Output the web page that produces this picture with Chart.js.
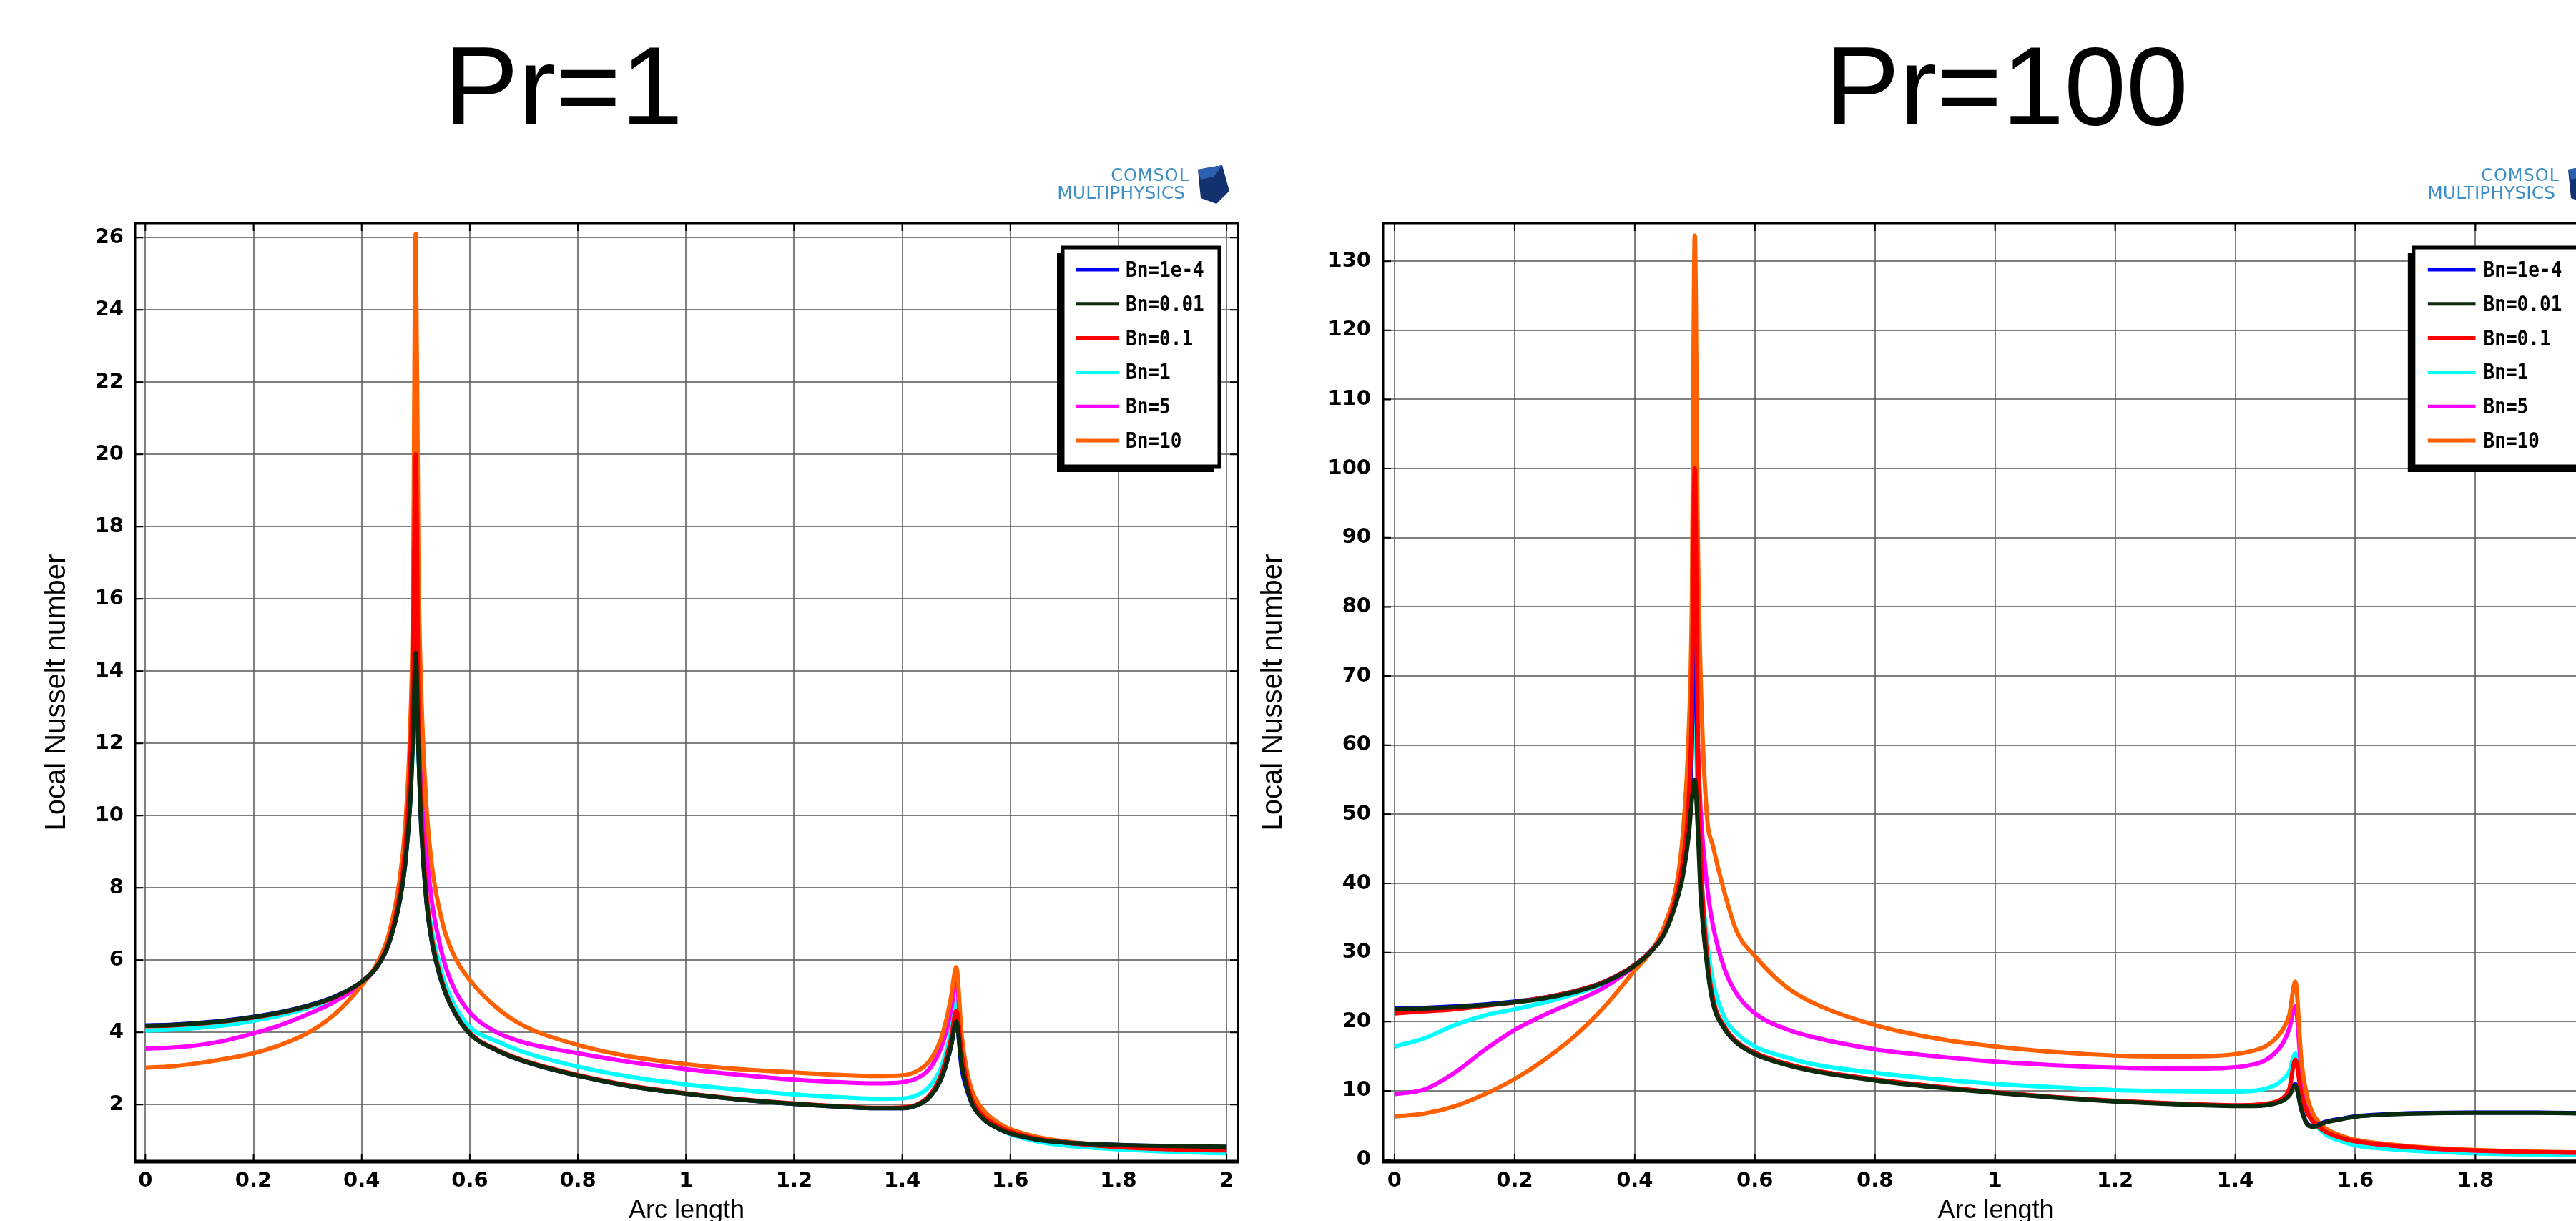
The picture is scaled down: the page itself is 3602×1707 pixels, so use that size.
<!DOCTYPE html>
<html>
<head>
<meta charset="utf-8">
<script src="https://cdn.jsdelivr.net/npm/chart.js@4.4.1/dist/chart.umd.min.js"></script>
<style>
  html, body { margin: 0; padding: 0; background: #fff; overflow: hidden; }
  body { width: 3602px; height: 1707px; position: relative; }
  canvas { position: absolute; top: 0; }
  #pr1 { left: 0; }
  #pr100 { left: 1740px; }
</style>
</head>
<body>
<canvas id="pr1" width="1800" height="1720"></canvas>
<canvas id="pr100" width="1960" height="1720"></canvas>
<script>
// arc length samples (denser around the two corners at 0.5 and 1.5)
const arcLength = [0, 0.05, 0.1, 0.15, 0.2, 0.25, 0.3, 0.35, 0.4, 0.43, 0.45, 0.47, 0.48, 0.49, 0.495, 0.5,
  0.505, 0.51, 0.52, 0.53, 0.55, 0.57, 0.6, 0.65, 0.7, 0.8, 0.9, 1.0, 1.1, 1.2, 1.3, 1.35, 1.4, 1.43, 1.45,
  1.47, 1.48, 1.49, 1.5, 1.51, 1.52, 1.53, 1.55, 1.58, 1.6, 1.65, 1.7, 1.8, 1.9, 2.0];

const bnLabels = ['Bn=1e-4', 'Bn=0.01', 'Bn=0.1', 'Bn=1', 'Bn=5', 'Bn=10'];
const seriesColors = ['#0000ff', '#0c2a0c', '#ff0000', '#00ffff', '#ff00ff', '#ff6000'];
const drawOrder = [2, 0, 1, 5, 4, 3];

// Pr = 1
const pr1Bn1e4 = [4.19, 4.21, 4.26, 4.33, 4.43, 4.56, 4.74, 4.99, 5.4, 5.85, 6.45, 7.6, 8.6, 10.5, 12.5, 15.5,
  12.0, 9.8, 7.6, 6.5, 5.3, 4.6, 3.97, 3.5, 3.2, 2.8, 2.5, 2.3, 2.14, 2.02, 1.93, 1.9, 1.9, 2.0, 2.2,
  2.65, 3.05, 3.6, 4.3, 3.0, 2.4, 2.0, 1.6, 1.32, 1.2, 1.03, 0.95, 0.88, 0.84, 0.82];
const pr1Bn001 = [4.18, 4.2, 4.25, 4.32, 4.42, 4.55, 4.73, 4.98, 5.4, 5.85, 6.45, 7.6, 8.6, 10.4, 12.2, 14.5,
  11.8, 9.7, 7.6, 6.5, 5.3, 4.6, 3.96, 3.5, 3.2, 2.8, 2.5, 2.3, 2.14, 2.02, 1.93, 1.9, 1.9, 2.0, 2.2,
  2.65, 3.05, 3.6, 4.3, 3.1, 2.45, 2.0, 1.6, 1.32, 1.2, 1.03, 0.95, 0.88, 0.85, 0.83];
const pr1Bn01 = [4.17, 4.19, 4.24, 4.31, 4.41, 4.54, 4.72, 4.97, 5.4, 5.86, 6.5, 7.8, 9.0, 11.5, 14.5, 20.0,
  13.0, 10.2, 7.8, 6.6, 5.35, 4.62, 3.98, 3.52, 3.22, 2.82, 2.52, 2.31, 2.15, 2.03, 1.94, 1.91, 1.92, 2.02, 2.25,
  2.75, 3.2, 3.8, 4.6, 3.4, 2.6, 2.1, 1.68, 1.38, 1.25, 1.05, 0.95, 0.82, 0.76, 0.73];
const pr1Bn1 = [4.05, 4.08, 4.13, 4.2, 4.32, 4.47, 4.67, 4.94, 5.38, 5.85, 6.45, 7.6, 8.6, 10.4, 12.0, 13.5,
  11.8, 9.9, 7.8, 6.8, 5.55, 4.8, 4.15, 3.75, 3.45, 3.05, 2.76, 2.56, 2.41, 2.28, 2.19, 2.16, 2.17, 2.28, 2.5,
  2.95, 3.4, 4.0, 4.85, 3.4, 2.55, 2.1, 1.66, 1.32, 1.18, 0.98, 0.87, 0.76, 0.69, 0.65];
const pr1Bn5 = [3.55, 3.58, 3.65, 3.78, 3.97, 4.2, 4.5, 4.85, 5.35, 5.85, 6.45, 7.7, 8.8, 10.8, 13.0, 18.0,
  14.0, 11.5, 9.0, 7.6, 6.1, 5.25, 4.55, 4.0, 3.72, 3.42, 3.17, 2.98, 2.82, 2.69, 2.61, 2.59, 2.62, 2.75, 2.98,
  3.5, 3.95, 4.6, 5.4, 3.7, 2.75, 2.25, 1.78, 1.42, 1.28, 1.07, 0.95, 0.84, 0.79, 0.77];
const pr1Bn10 = [3.02, 3.06, 3.15, 3.27, 3.42, 3.65, 3.98, 4.5, 5.3, 5.95, 6.7, 8.2, 9.6, 12.5, 16.0, 26.1,
  17.0, 13.5, 10.2, 8.6, 7.0, 6.15, 5.45, 4.68, 4.18, 3.65, 3.32, 3.12, 2.98, 2.89, 2.81, 2.79, 2.81, 2.95, 3.2,
  3.75, 4.25, 4.95, 5.8, 3.9, 2.9, 2.35, 1.85, 1.47, 1.32, 1.1, 0.98, 0.86, 0.81, 0.79];

// Pr = 100
const pr100Bn1e4 = [21.9, 22.0, 22.2, 22.5, 22.9, 23.5, 24.4, 25.8, 28.2, 30.5, 33.0, 38.0, 42.0, 50.0, 60.0, 82.0,
  55.0, 40.0, 29.0, 23.0, 19.0, 17.0, 15.4, 13.9, 12.9, 11.6, 10.6, 9.75, 9.05, 8.5, 8.1, 7.95, 7.85, 7.85, 7.95,
  8.3, 8.7, 9.4, 11.0, 7.4, 5.2, 4.9, 5.5, 6.0, 6.3, 6.6, 6.75, 6.85, 6.85, 6.75];
const pr100Bn001 = [21.8, 21.9, 22.1, 22.4, 22.8, 23.4, 24.3, 25.7, 28.1, 30.4, 32.8, 37.5, 41.0, 47.0, 52.0, 55.0,
  48.0, 38.0, 28.5, 22.8, 18.9, 16.9, 15.3, 13.8, 12.8, 11.5, 10.5, 9.7, 9.0, 8.45, 8.05, 7.9, 7.8, 7.8, 7.9,
  8.25, 8.6, 9.3, 10.8, 7.3, 5.1, 4.8, 5.4, 5.95, 6.25, 6.55, 6.7, 6.8, 6.8, 6.7];
const pr100Bn01 = [21.2, 21.5, 21.8, 22.3, 22.8, 23.5, 24.4, 25.8, 28.2, 30.5, 33.0, 38.5, 43.0, 52.0, 65.0, 100.0,
  62.0, 44.0, 30.0, 23.5, 19.2, 17.1, 15.5, 14.0, 12.95, 11.65, 10.65, 9.8, 9.1, 8.55, 8.15, 8.0, 7.9, 7.95, 8.1,
  8.5, 9.0, 10.3, 14.5, 9.5, 6.8, 5.5, 4.1, 3.1, 2.7, 2.15, 1.8, 1.35, 1.12, 1.0];
const pr100Bn1 = [16.4, 17.6, 19.5, 20.9, 21.8, 22.8, 24.0, 25.6, 28.0, 30.4, 33.0, 38.0, 42.0, 50.0, 58.0, 65.0,
  52.0, 42.0, 32.0, 26.0, 20.5, 18.3, 16.4, 14.9, 13.8, 12.6, 11.7, 11.0, 10.5, 10.1, 9.95, 9.9, 9.9, 10.0, 10.3,
  11.0, 11.7, 12.8, 15.4, 10.0, 7.0, 5.5, 3.7, 2.6, 2.1, 1.6, 1.3, 0.95, 0.8, 0.72];
const pr100Bn5 = [9.5, 10.2, 12.6, 15.9, 18.8, 21.0, 22.9, 25.0, 28.1, 30.6, 33.3, 39.0, 44.0, 53.0, 62.0, 72.0,
  60.0, 50.0, 40.0, 34.0, 27.5, 24.0, 21.2, 19.0, 17.7, 16.0, 15.0, 14.2, 13.7, 13.35, 13.2, 13.2, 13.4, 13.8, 14.4,
  15.8, 17.0, 19.0, 22.2, 13.0, 8.5, 6.3, 4.4, 3.2, 2.75, 2.15, 1.8, 1.35, 1.12, 1.0];
const pr100Bn10 = [6.3, 6.7, 7.75, 9.5, 11.7, 14.5, 17.9, 22.2, 27.4, 30.5, 34.0, 40.0, 47.0, 62.0, 80.0, 133.7,
  90.0, 69.0, 50.0, 45.5, 38.5, 33.0, 29.5, 25.2, 22.6, 19.5, 17.6, 16.4, 15.6, 15.1, 14.95, 15.0, 15.3, 15.8, 16.4,
  17.8, 19.0, 21.0, 25.8, 14.5, 9.0, 6.6, 4.6, 3.4, 2.9, 2.3, 1.9, 1.42, 1.18, 1.06];

const arcTicks = [0, 0.2, 0.4, 0.6, 0.8, 1, 1.2, 1.4, 1.6, 1.8, 2];
const pr1Ticks = [2, 4, 6, 8, 10, 12, 14, 16, 18, 20, 22, 24, 26];
const pr100Ticks = [0, 10, 20, 30, 40, 50, 60, 70, 80, 90, 100, 110, 120, 130];

// frame, inner tick marks, boxed legend, title and logo
const decorPlugin = {
  id: 'decor',
  afterDraw(chart, args, opts) {
    const ctx = chart.ctx;
    const a = chart.chartArea;
    const sx = (a.right - a.left) / 1542;
    const xs = chart.scales.x, ys = chart.scales.y;
    ctx.save();

    // frame
    ctx.strokeStyle = '#000';
    ctx.lineWidth = 3;
    ctx.strokeRect(a.left, a.top, a.right - a.left, a.bottom - a.top);
    ctx.lineWidth = 5;
    ctx.beginPath();
    ctx.moveTo(a.left - 2, a.bottom);
    ctx.lineTo(a.right + 2, a.bottom);
    ctx.stroke();

    ctx.lineWidth = 2;
    ctx.beginPath();
    xs.ticks.forEach(t => {
      const px = xs.getPixelForValue(t.value);
      ctx.moveTo(px, a.top); ctx.lineTo(px, a.top + 11);
      ctx.moveTo(px, a.bottom); ctx.lineTo(px, a.bottom - 11);
    });
    ys.ticks.forEach(t => {
      const py = ys.getPixelForValue(t.value);
      ctx.moveTo(a.left, py); ctx.lineTo(a.left + 11, py);
      ctx.moveTo(a.right, py); ctx.lineTo(a.right - 11, py);
    });
    ctx.stroke();

    // legend box with drop shadow
    const bw = 219 * sx, bh = 306;
    const bx = a.right - 26 * sx - bw, by = a.top + 34;
    ctx.fillStyle = '#000';
    ctx.fillRect(bx - 8, by + 8, bw, bh);
    ctx.fillStyle = '#fff';
    ctx.fillRect(bx, by, bw, bh);
    ctx.lineWidth = 5;
    ctx.strokeRect(bx, by, bw, bh);
    ctx.font = 'bold 31px "DejaVu Sans Mono", monospace';
    ctx.textBaseline = 'middle';
    ctx.textAlign = 'left';
    chart.data.datasets.forEach((ds, i) => {
      const ly = by + 31 + i * 47.8;
      ctx.strokeStyle = ds.borderColor;
      ctx.lineWidth = 5;
      ctx.beginPath();
      ctx.moveTo(bx + 18 * sx, ly);
      ctx.lineTo(bx + 78 * sx, ly);
      ctx.stroke();
      ctx.fillStyle = '#000';
      ctx.save();
      ctx.translate(bx + 88 * sx, ly + 2);
      ctx.scale(0.84, 1);
      ctx.fillText(ds.label, 0, 0);
      ctx.restore();
    });

    // COMSOL logo
    ctx.fillStyle = '#3d8fc6';
    ctx.textAlign = 'right';
    ctx.textBaseline = 'alphabetic';
    ctx.letterSpacing = '1px';
    ctx.font = '24px "DejaVu Sans", sans-serif';
    ctx.fillText('COMSOL', a.right - 68, a.top - 59);
    ctx.letterSpacing = '0px';
    ctx.font = '25px "DejaVu Sans", sans-serif';
    ctx.fillText('MULTIPHYSICS', a.right - 74, a.top - 34);
    const cx = a.right - 36, cy = a.top - 55;
    ctx.fillStyle = '#12316e';
    ctx.beginPath();
    ctx.moveTo(cx - 20, cy - 20); ctx.lineTo(cx + 14, cy - 26); ctx.lineTo(cx + 24, cy + 10);
    ctx.lineTo(cx + 6, cy + 28); ctx.lineTo(cx - 16, cy + 20); ctx.closePath();
    ctx.fill();
    ctx.fillStyle = '#2b5fb0';
    ctx.beginPath();
    ctx.moveTo(cx - 20, cy - 20); ctx.lineTo(cx + 14, cy - 26); ctx.lineTo(cx + 2, cy - 10);
    ctx.lineTo(cx - 16, cy - 6); ctx.closePath();
    ctx.fill();

    // big title
    ctx.fillStyle = '#000';
    ctx.textAlign = 'center';
    ctx.font = '156px "Liberation Sans", Arial, sans-serif';
    ctx.fillText(opts.text, opts.x, 174);
    ctx.restore();
  }
};

function makeChart(id, series, yTicks, cfg) {
  const tickFont = { family: '"DejaVu Sans", sans-serif', size: 29, weight: 'bold' };
  const grid = { color: 'rgba(95,95,95,0.8)', lineWidth: 2, drawTicks: false };
  return new Chart(document.getElementById(id), {
    type: 'line',
    data: {
      datasets: series.map((vals, i) => ({
        label: bnLabels[i],
        data: arcLength.map((x, j) => ({ x: x, y: vals[j] })),
        borderColor: seriesColors[i],
        borderWidth: 6,
        pointRadius: 0,
        cubicInterpolationMode: 'monotone',
        order: drawOrder[i]
      }))
    },
    options: {
      responsive: false,
      animation: false,
      devicePixelRatio: 1,
      layout: { padding: { top: 312, right: cfg.padRight, bottom: 0, left: 0 } },
      plugins: {
        legend: { display: false },
        tooltip: { enabled: false },
        decor: { text: cfg.title, x: cfg.titleX }
      },
      scales: {
        x: {
          type: 'linear',
          min: -0.019,
          max: 2.021,
          afterFit: axis => { axis.height = 96; },
          afterBuildTicks: axis => { axis.ticks = arcTicks.map(v => ({ value: v })); },
          grid: grid,
          border: { display: false },
          ticks: {
            font: tickFont, color: '#000', padding: 10, maxRotation: 0, autoSkip: false,
            callback: v => String(Math.round(v * 10) / 10)
          },
          title: {
            display: true, text: 'Arc length', color: '#000',
            font: { family: '"Liberation Sans", Arial, sans-serif', size: 36 },
            padding: { top: 0, bottom: 5 }
          }
        },
        y: {
          min: cfg.yMin,
          max: cfg.yMax,
          afterFit: axis => { axis.width = cfg.yAxisWidth; },
          afterBuildTicks: axis => { axis.ticks = yTicks.map(v => ({ value: v })); },
          grid: grid,
          border: { display: false },
          ticks: { font: tickFont, color: '#000', padding: cfg.yTickPad, autoSkip: false, callback: v => String(v) },
          title: {
            display: true, text: 'Local Nusselt number', color: '#000',
            font: { family: '"Liberation Sans", Arial, sans-serif', size: 40 },
            padding: { top: cfg.yTitlePad, bottom: 0 }
          }
        }
      }
    },
    plugins: [decorPlugin]
  });
}

makeChart('pr1', [pr1Bn1e4, pr1Bn001, pr1Bn01, pr1Bn1, pr1Bn5, pr1Bn10], pr1Ticks, {
  title: 'Pr=1', titleX: 788, padRight: 69, yAxisWidth: 189, yTickPad: 16, yTitlePad: 56, yMin: 0.42, yMax: 26.4
});
makeChart('pr100', [pr100Bn1e4, pr100Bn001, pr100Bn01, pr100Bn1, pr100Bn5, pr100Bn10], pr100Ticks, {
  title: 'Pr=100', titleX: 1066, padRight: 53, yAxisWidth: 194, yTickPad: 17, yTitlePad: 17, yMin: -0.25, yMax: 135.5
});
</script>
</body>
</html>
